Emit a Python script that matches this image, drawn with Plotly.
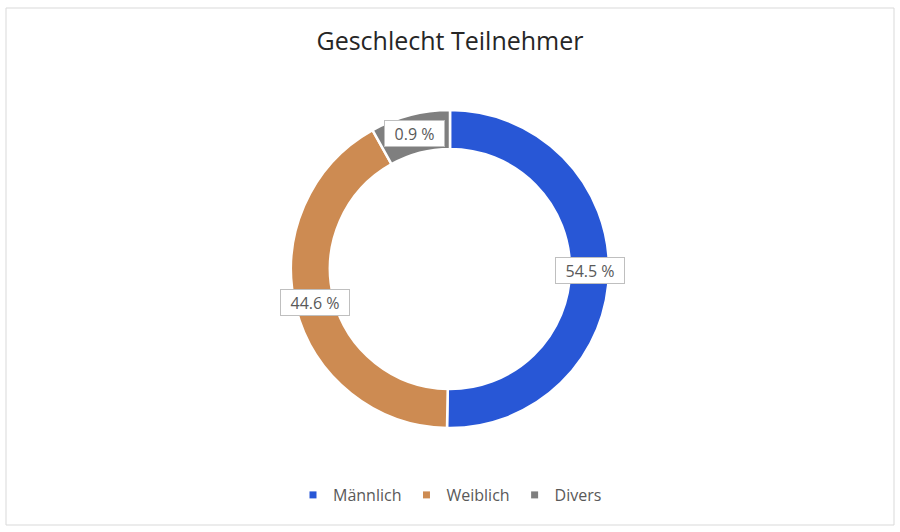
import math
import plotly.graph_objects as go

# Data
kategorien = ['Männlich', 'Weiblich', 'Divers']
anteile = [50.3, 41.6, 8.1]          # slice sizes as drawn in the picture
beschriftung = ['54.5 %', '44.6 %', '0.9 %']   # labels printed on the slices
farben = ['#2857D6', '#CD8B52', '#7F7F7F']

W, H = 900, 532
cx, cy, r_out = 450, 269, 159
loch = 0.755
schrift = 'Open Sans, Arial'

fig = go.Figure()

fig.add_trace(go.Pie(
    labels=kategorien, values=anteile, sort=False, direction='clockwise', rotation=0,
    hole=loch, textinfo='none', hoverinfo='label+percent', showlegend=False,
    marker=dict(colors=farben, line=dict(color='white', width=2.5)),
    domain=dict(x=[(cx - r_out) / W, (cx + r_out) / W],
                y=[1 - (cy + r_out) / H, 1 - (cy - r_out) / H])))

# legend with small square markers
for name, col in zip(kategorien, farben):
    fig.add_trace(go.Scatter(x=[None], y=[None], mode='markers', name=name,
        marker=dict(symbol='square', size=7, color=col)))

# data labels at the middle of each slice on the ring
r_mid = r_out * (1 + loch) / 2
total = sum(anteile)
start = 0
for wert, txt in zip(anteile, beschriftung):
    theta = math.radians((start + wert / 2) / total * 360)
    start += wert
    px = cx + r_mid * math.sin(theta)
    py = cy - r_mid * math.cos(theta)
    fig.add_annotation(x=px / W, y=1 - py / H, xref='paper', yref='paper', text=txt,
        xanchor='center', yanchor='middle', showarrow=False,
        font=dict(family=schrift, size=16, color='#595959'),
        width=len(txt) * 9 + 10, height=21,
        bgcolor='white', bordercolor='#BFBFBF', borderwidth=1, borderpad=2)

fig.update_layout(
    width=W, height=H, margin=dict(l=0, r=0, t=0, b=0),
    paper_bgcolor='white', plot_bgcolor='white',
    title=dict(text='Geschlecht Teilnehmer', x=0.5, xanchor='center', y=1 - 41 / H, yanchor='middle',
               font=dict(family=schrift, size=25, color='#262626')),
    xaxis=dict(visible=False), yaxis=dict(visible=False),
    legend=dict(orientation='h', x=0.5, xanchor='center', y=1 - 495 / H, yanchor='middle',
                font=dict(family=schrift, size=16, color='#595959'), itemwidth=30),
    shapes=[dict(type='rect', xref='paper', yref='paper', x0=6 / W, x1=894 / W,
                 y0=1 - 525 / H, y1=1 - 8 / H, line=dict(color='#D9D9D9', width=1))])

fig.write_html('out.html', config={'displayModeBar': False},
               post_script="document.body.style.margin='0';")
